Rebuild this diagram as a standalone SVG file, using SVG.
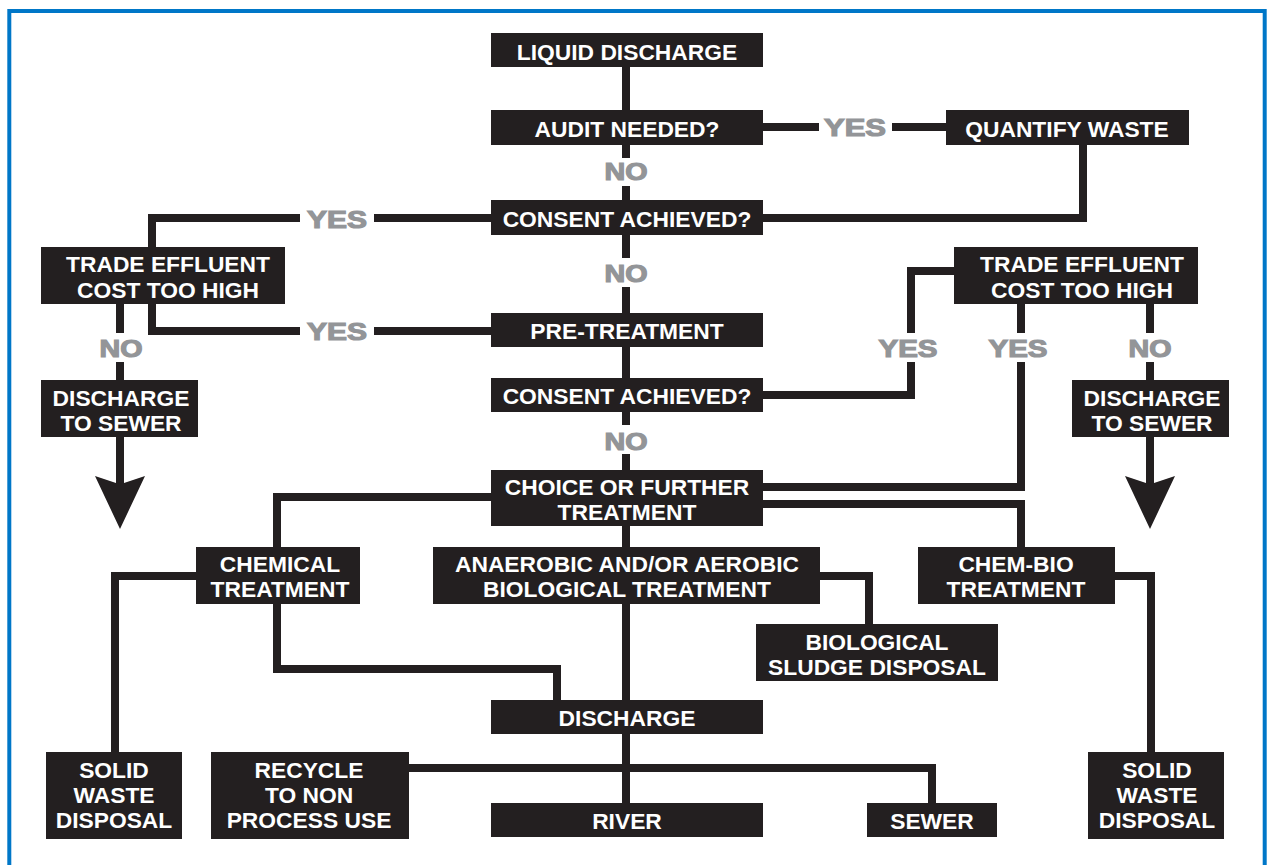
<svg xmlns="http://www.w3.org/2000/svg" width="1270" height="865" viewBox="0 0 1270 865">
<style>
.box{fill:#231f20}
.t{font-family:"Liberation Sans",Arial,sans-serif;font-weight:bold;font-size:22.8px;fill:#ffffff;text-anchor:middle}
.lbl{font-family:"Liberation Sans",Arial,sans-serif;font-weight:bold;font-size:24.5px;fill:#939598;stroke:#939598;stroke-width:1.2px;text-anchor:middle}
.c{fill:none;stroke:#231f20;stroke-width:8;stroke-linejoin:miter;stroke-linecap:butt}
.ah{fill:#231f20}
</style>
<rect x="0" y="0" width="1270" height="865" fill="#ffffff"/>
<rect x="9.3" y="11" width="1255.4" height="880" fill="none" stroke="#0077c8" stroke-width="4"/>

<g id="connectors">
<path class="c" d="M626,67 V110"/>
<path class="c" d="M626,145 V158 M626,186 V200"/>
<path class="c" d="M763,127 H819 M892,127 H946"/>
<path class="c" d="M1083,145 V218 H763"/>
<path class="c" d="M491,218 H374 M300,218 H152 V247"/>
<path class="c" d="M626,235 V258 M626,287 V313"/>
<path class="c" d="M152,304 V331 H300 M374,331 H491"/>
<path class="c" d="M120,304 V333 M120,362 V380"/>
<path class="c" d="M120,437 V484"/>
<polygon class="ah" points="95,476 116,483 124,483 145,476 120,529"/>
<path class="c" d="M626,347 V378"/>
<path class="c" d="M626,412 V425 M626,454 V470"/>
<path class="c" d="M763,395 H911 V362 M911,333 V271 H954"/>
<path class="c" d="M1021,304 V333 M1021,362 V487 H763"/>
<path class="c" d="M1150,304 V333 M1150,362 V380"/>
<path class="c" d="M1150,437 V484"/>
<polygon class="ah" points="1125,476 1146,483 1154,483 1175,476 1150,529"/>
<path class="c" d="M763,504 H1021 V547"/>
<path class="c" d="M491,497 H277 V547"/>
<path class="c" d="M626,526 V547"/>
<path class="c" d="M820,576 H869 V624"/>
<path class="c" d="M1115,576 H1151 V752"/>
<path class="c" d="M196,576 H115 V752"/>
<path class="c" d="M277,604 V669 H557 V700"/>
<path class="c" d="M626,604 V700"/>
<path class="c" d="M626,734 V803"/>
<path class="c" d="M409,768 H932 V803"/>
</g>

<g id="labels">
<text class="lbl" x="855" y="136" textLength="62" lengthAdjust="spacingAndGlyphs">YES</text>
<text class="lbl" x="626" y="180" textLength="43" lengthAdjust="spacingAndGlyphs">NO</text>
<text class="lbl" x="337" y="228" textLength="60" lengthAdjust="spacingAndGlyphs">YES</text>
<text class="lbl" x="626" y="282" textLength="43" lengthAdjust="spacingAndGlyphs">NO</text>
<text class="lbl" x="337" y="340" textLength="60" lengthAdjust="spacingAndGlyphs">YES</text>
<text class="lbl" x="121" y="357" textLength="43" lengthAdjust="spacingAndGlyphs">NO</text>
<text class="lbl" x="908" y="357" textLength="59" lengthAdjust="spacingAndGlyphs">YES</text>
<text class="lbl" x="1018" y="357" textLength="59" lengthAdjust="spacingAndGlyphs">YES</text>
<text class="lbl" x="1150" y="357" textLength="43" lengthAdjust="spacingAndGlyphs">NO</text>
<text class="lbl" x="626" y="450" textLength="43" lengthAdjust="spacingAndGlyphs">NO</text>
</g>

<g id="liquid-discharge"><rect class="box" x="491" y="33" width="272" height="34"/><text class="t" x="627" y="60">LIQUID DISCHARGE</text></g>
<g id="audit-needed"><rect class="box" x="491" y="110" width="272" height="35"/><text class="t" x="627" y="137">AUDIT NEEDED?</text></g>
<g id="quantify-waste"><rect class="box" x="946" y="110" width="243" height="35"/><text class="t" x="1067" y="137">QUANTIFY WASTE</text></g>
<g id="consent-1"><rect class="box" x="491" y="200" width="272" height="35"/><text class="t" x="627" y="227">CONSENT ACHIEVED?</text></g>
<g id="trade-effluent-left"><rect class="box" x="41" y="247" width="244" height="57"/><text class="t" x="168" y="272">TRADE EFFLUENT</text><text class="t" x="168" y="298">COST TOO HIGH</text></g>
<g id="trade-effluent-right"><rect class="box" x="954" y="247" width="244" height="57"/><text class="t" x="1082" y="272">TRADE EFFLUENT</text><text class="t" x="1082" y="298">COST TOO HIGH</text></g>
<g id="pre-treatment"><rect class="box" x="491" y="313" width="272" height="34"/><text class="t" x="627" y="339">PRE-TREATMENT</text></g>
<g id="consent-2"><rect class="box" x="491" y="378" width="272" height="34"/><text class="t" x="627" y="404">CONSENT ACHIEVED?</text></g>
<g id="discharge-sewer-left"><rect class="box" x="41" y="380" width="157" height="57"/><text class="t" x="121" y="406">DISCHARGE</text><text class="t" x="121" y="431">TO SEWER</text></g>
<g id="discharge-sewer-right"><rect class="box" x="1072" y="380" width="157" height="57"/><text class="t" x="1152" y="406">DISCHARGE</text><text class="t" x="1152" y="431">TO SEWER</text></g>
<g id="choice"><rect class="box" x="491" y="470" width="272" height="56"/><text class="t" x="627" y="495">CHOICE OR FURTHER</text><text class="t" x="627" y="520">TREATMENT</text></g>
<g id="chemical"><rect class="box" x="196" y="547" width="164" height="57"/><text class="t" x="280" y="572">CHEMICAL</text><text class="t" x="280" y="597">TREATMENT</text></g>
<g id="anaerobic"><rect class="box" x="433" y="547" width="387" height="57"/><text class="t" x="627" y="572">ANAEROBIC AND/OR AEROBIC</text><text class="t" x="627" y="597">BIOLOGICAL TREATMENT</text></g>
<g id="chem-bio"><rect class="box" x="918" y="547" width="197" height="57"/><text class="t" x="1016" y="572">CHEM-BIO</text><text class="t" x="1016" y="597">TREATMENT</text></g>
<g id="sludge"><rect class="box" x="756" y="624" width="242" height="57"/><text class="t" x="877" y="650">BIOLOGICAL</text><text class="t" x="877" y="675">SLUDGE DISPOSAL</text></g>
<g id="discharge"><rect class="box" x="491" y="700" width="272" height="34"/><text class="t" x="627" y="726">DISCHARGE</text></g>
<g id="solid-left"><rect class="box" x="46" y="752" width="136" height="87"/><text class="t" x="114" y="778">SOLID</text><text class="t" x="114" y="803">WASTE</text><text class="t" x="114" y="828">DISPOSAL</text></g>
<g id="recycle"><rect class="box" x="211" y="752" width="198" height="87"/><text class="t" x="309" y="778">RECYCLE</text><text class="t" x="309" y="803">TO NON</text><text class="t" x="309" y="828">PROCESS USE</text></g>
<g id="river"><rect class="box" x="491" y="803" width="272" height="34"/><text class="t" x="627" y="829">RIVER</text></g>
<g id="sewer"><rect class="box" x="867" y="803" width="130" height="34"/><text class="t" x="932" y="829">SEWER</text></g>
<g id="solid-right"><rect class="box" x="1088" y="752" width="136" height="87"/><text class="t" x="1157" y="778">SOLID</text><text class="t" x="1157" y="803">WASTE</text><text class="t" x="1157" y="828">DISPOSAL</text></g>
</svg>
